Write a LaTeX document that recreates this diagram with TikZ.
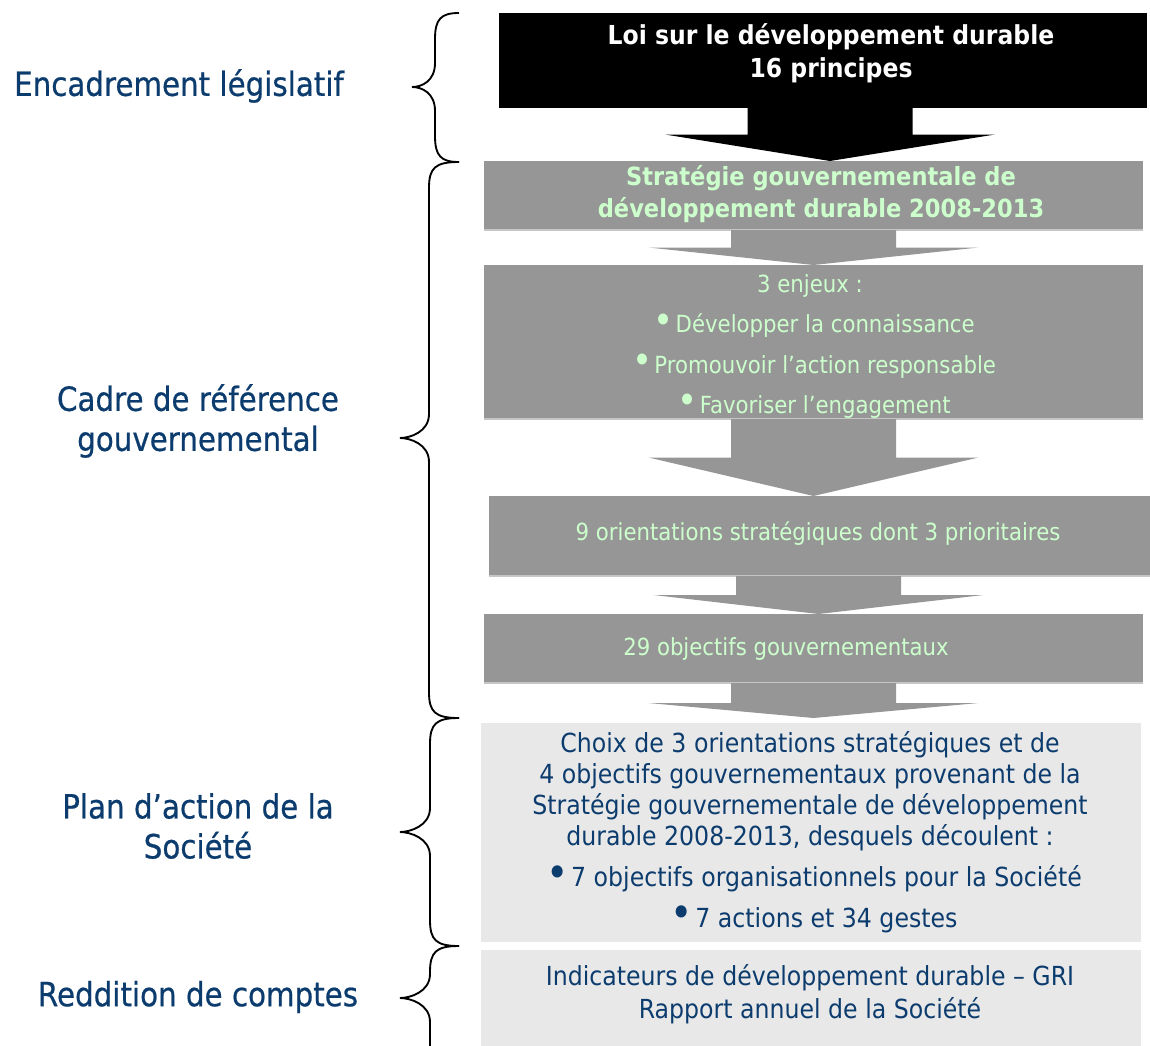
\documentclass[tikz,border=0pt]{standalone}
\usepackage{fontspec}
\setmainfont{DejaVu Sans}
\newfontfamily\labf[FakeStretch=0.88,FakeBold=0.6]{DejaVu Sans}
\newfontfamily\bxf[FakeStretch=0.9]{DejaVu Sans}
\usetikzlibrary{fit,calc}
\definecolor{navy}{HTML}{0C3C6E}
\definecolor{lgreen}{HTML}{CCFFCC}
\definecolor{gbox}{HTML}{969696}
\definecolor{gedge}{HTML}{C6C6C6}
\definecolor{lbox}{HTML}{E8E8E8}
\def\u{0.75pt}
\newcommand\blt[1]{\textcolor{#1}{\smash{\raisebox{-0.02em}{\scalebox{1.6}{\textbullet}}}}\hspace{0.1em}}
% block arrow: colour, from node, to node, centre x (px), tip gap (px)
\newcommand\blkarr[5]{%
  \fill[#1] let \p1=(#2.south), \p2=(#3.north) in
    ({(#4-82.5)*\u},\y1) -- ({(#4+82.5)*\u},\y1) -- ({(#4+82.5)*\u},{(\y1+\y2)/2}) --
    ({(#4+165)*\u},{(\y1+\y2)/2}) -- ({#4*\u},{\y2+#5*\u}) --
    ({(#4-165)*\u},{(\y1+\y2)/2}) -- ({(#4-82.5)*\u},{(\y1+\y2)/2}) -- cycle;}
% curly brace: end x, spine x, tip x, top y, tip y, bottom y
\newcommand\cbrace[6]{%
  \draw[brace] (#1,#4) .. controls (#2+6,#4) and (#2,#4+6) .. (#2,#4+26) -- (#2,#5-24)
    .. controls (#2,#5-6) and (#3+10,#5) .. (#3,#5)
    .. controls (#3+10,#5) and (#2,#5+6) .. (#2,#5+24) -- (#2,#6-26)
    .. controls (#2,#6-6) and (#2+6,#6) .. (#1,#6);}
\begin{document}
\begin{tikzpicture}[x=0.75pt,y=-0.75pt,
  boxshape/.style={inner sep=0pt, outer sep=0pt},
  greybox/.style={boxshape, fill=gbox},
  lightbox/.style={boxshape, fill=lbox},
  lab/.style={text=navy, align=center, inner sep=0pt, font=\labf\fontsize{25pt}{30pt}\selectfont},
  big/.style={align=center, inner sep=0pt, font=\bxf\fontsize{19.7pt}{23.25pt}\selectfont},
  bold/.style={align=center, inner sep=0pt, font=\bxf\bfseries\fontsize{19pt}{24pt}\selectfont},
  small/.style={align=center, inner sep=0pt, font=\bxf\fontsize{17.7pt}{20pt}\selectfont},
  brace/.style={draw=black, line width=1.4pt}]
\path[use as bounding box] (0,0) rectangle (1150,1046);
\clip (0,0) rectangle (1150,1046);

% boxes
\node[boxshape, fill=black, fit={(499,13)(1147,108)}] (b0) {};
\node[greybox, fit={(484,161)(1143,230)}] (b1) {};
\node[greybox, fit={(484,265)(1143,419)}] (b2) {};
\node[greybox, fit={(489,496)(1150,576)}] (b3) {};
\node[greybox, fit={(484,614)(1143,683)}] (b4) {};
\node[lightbox, fit={(481,723)(1141,942)}] (b5) {};
\node[lightbox, fit={(481,950)(1141,1060)}] (b6) {};
\foreach \b in {b1,b2,b3,b4}{\draw[gedge, line width=1.5pt] (\b.south west) -- (\b.south east);}

% block arrows
\blkarr{black}{b0}{b1}{830}{0}
\blkarr{gbox}{b1}{b2}{813.5}{0}
\blkarr{gbox}{b2}{b3}{813.5}{0}
\blkarr{gbox}{b3}{b4}{818.5}{0}
\blkarr{gbox}{b4}{b5}{813.5}{5}

% box texts
\node[bold, text=white, font=\bxf\bfseries\fontsize{19.6pt}{24.75pt}\selectfont] (t0) at (831,53.5) {Loi sur le développement durable\\16 principes};
\node[bold, text=lgreen, font=\bxf\bfseries\fontsize{18.8pt}{24pt}\selectfont] (t1) at (821,194) {Stratégie gouvernementale de\\développement durable 2008-2013};
\node[small, text=lgreen] (t2a) at (810,286) {3 enjeux :};
\node[small, text=lgreen] (t2b) at (814,326) {\blt{lgreen}Développer la connaissance};
\node[small, text=lgreen] (t2c) at (814,367) {\blt{lgreen}Promouvoir l’action responsable};
\node[small, text=lgreen] (t2d) at (814,407) {\blt{lgreen}Favoriser l’engagement};
\node[small, text=lgreen] (t3) at (818,534) {9 orientations stratégiques dont 3 prioritaires};
\node[small, text=lgreen] (t4) at (786,649) {29 objectifs gouvernementaux};
\node[big, text=navy] (t5a) at (810,791.5) {Choix de 3 orientations stratégiques et de\\4 objectifs gouvernementaux provenant de la\\Stratégie gouvernementale de développement\\durable 2008-2013, desquels découlent :};
\node[big, text=navy] (t5b) at (814,879) {\blt{navy}7 objectifs organisationnels pour la Société};
\node[big, text=navy] (t5c) at (814,920) {\blt{navy}7 actions et 34 gestes};
\node[big, text=navy, font=\bxf\fontsize{19.7pt}{24.75pt}\selectfont] (t6) at (810,994.5) {Indicateurs de développement durable – GRI\\Rapport annuel de la Société};

% left labels
\node[lab] (l1) at (179,86) {Encadrement législatif};
\node[lab] (l2) at (198,421) {Cadre de référence\\gouvernemental};
\node[lab] (l3) at (198,826) {Plan d’action de la\\Société};
\node[lab] (l4) at (198,997) {Reddition de comptes};

% braces
\cbrace{459}{435}{412}{13}{87}{162}
\cbrace{459}{429}{400}{162}{438}{718}
\cbrace{459}{430}{400}{718}{832}{946}
\cbrace{459}{430}{400}{946}{998}{1100}
\end{tikzpicture}
\end{document}
